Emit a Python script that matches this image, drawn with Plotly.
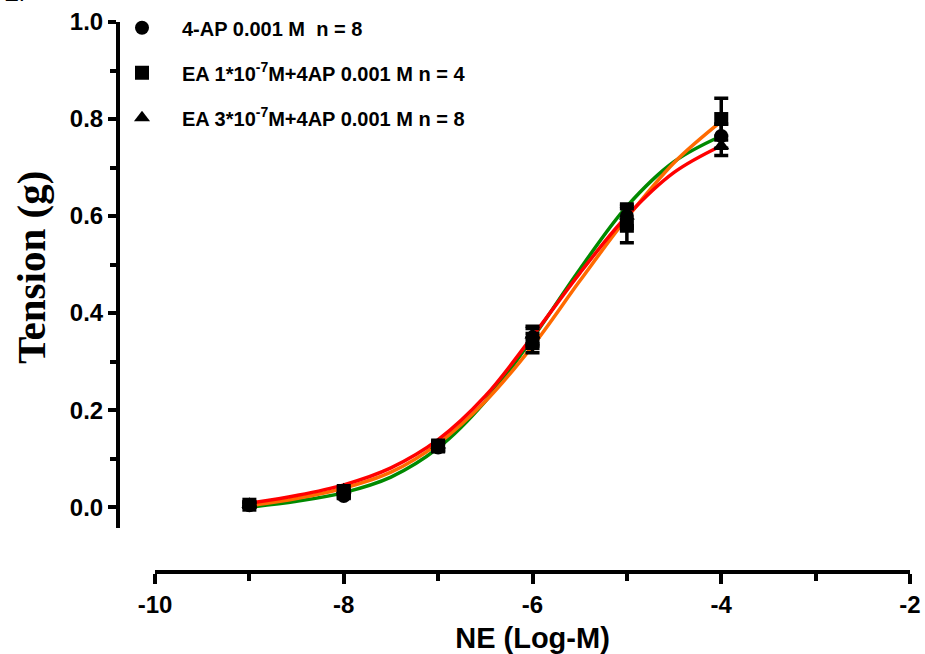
import plotly.graph_objects as go

# ---------------- data ----------------
log_ne = [-9, -8, -7, -6, -5, -4]

names = ["4-AP 0.001 M  n = 8",
         "EA 1*10<sup>-7</sup>M+4AP 0.001 M n = 4",
         "EA 3*10<sup>-7</sup>M+4AP 0.001 M n = 8"]
symbols = ["circle", "square", "triangle-up"]

mean_4ap = [0.004, 0.023, 0.123, 0.350, 0.600, 0.765]
sem_4ap = [0.004, 0.005, 0.008, 0.018, 0.020, 0.025]
mean_ea1 = [0.005, 0.030, 0.125, 0.338, 0.580, 0.800]
sem_ea1 = [0.005, 0.006, 0.008, 0.020, 0.035, 0.043]
mean_ea3 = [0.006, 0.036, 0.128, 0.355, 0.600, 0.745]
sem_ea3 = [0.005, 0.008, 0.010, 0.018, 0.025, 0.020]

# fitted curves
curve_x = [-9, -8.5, -8, -7.5, -7, -6.5, -6, -5.5, -5, -4.5, -4]
curve_4ap = [0.000, 0.012, 0.030, 0.062, 0.122, 0.218, 0.348, 0.490, 0.620, 0.712, 0.765]
curve_ea1 = [0.003, 0.018, 0.039, 0.072, 0.131, 0.218, 0.332, 0.466, 0.596, 0.710, 0.795]
curve_ea3 = [0.008, 0.024, 0.046, 0.081, 0.139, 0.229, 0.352, 0.482, 0.600, 0.690, 0.745]
curve_colors = ["#008a00", "#ff6a00", "#ff0000"]

x_tickvals = [-10, -8, -6, -4, -2]
x_ticktext = ["-10", "-8", "-6", "-4", "-2"]
y_tickvals = [0.0, 0.2, 0.4, 0.6, 0.8, 1.0]
y_ticktext = ["0.0", "0.2", "0.4", "0.6", "0.8", "1.0"]

# ---------------- figure ----------------
fig = go.Figure()

for cy, col in zip([curve_4ap, curve_ea1, curve_ea3], curve_colors):
    fig.add_trace(go.Scatter(x=curve_x, y=cy, mode="lines",
                             line=dict(color=col, width=3.5, shape="spline"),
                             showlegend=False, hoverinfo="skip"))

for i, (m, s) in enumerate([(mean_4ap, sem_4ap), (mean_ea1, sem_ea1), (mean_ea3, sem_ea3)]):
    fig.add_trace(go.Scatter(
        x=log_ne, y=m, mode="markers", name=names[i], legendgroup=str(i),
        marker=dict(symbol=symbols[i], color="black", size=14),
        error_y=dict(type="data", array=s, color="black", thickness=3.5, width=7),
    ))

L, R, T, B = 118, 15, 22, 82
W, H = 925, 654
pw = W - L - R
ph = H - T - B
x0_frac = (155 - L) / pw
y0_frac = (572 - 528) / ph

axis_font = dict(family="Liberation Sans, Arial", size=24, color="black", weight="bold")

fig.update_layout(
    width=W, height=H,
    margin=dict(l=L, r=R, t=T, b=B, autoexpand=False),
    paper_bgcolor="white", plot_bgcolor="white",
    xaxis=dict(domain=[x0_frac, 1], range=[-10, -2], anchor="free", position=0,
               automargin=False,
               showline=True, linecolor="black", linewidth=4,
               tickvals=x_tickvals, ticktext=x_ticktext,
               ticks="outside", ticklen=10, tickwidth=4, tickcolor="black",
               minor=dict(dtick=1, ticks="outside", ticklen=7, tickwidth=4, tickcolor="black"),
               showgrid=False, zeroline=False, tickfont=axis_font,
               title=dict(text="NE (Log-M)", standoff=13,
                          font=dict(family="Liberation Sans, Arial", size=29,
                                    color="black", weight="bold"))),
    yaxis=dict(domain=[y0_frac, 1], range=[-0.043, 1.0], anchor="free", position=0,
               automargin=False,
               showline=True, linecolor="black", linewidth=4,
               tickvals=y_tickvals, ticktext=y_ticktext,
               ticks="outside", ticklen=8, tickwidth=4, tickcolor="black",
               minor=dict(dtick=0.1, ticks="outside", ticklen=6, tickwidth=4, tickcolor="black"),
               showgrid=False, zeroline=False, tickfont=axis_font),
    legend=dict(x=(102 - L) / pw, y=1.025, xanchor="left", yanchor="top",
                traceorder="grouped", tracegroupgap=16, itemwidth=70,
                font=dict(family="Liberation Sans, Arial", size=20, color="black", weight="bold"),
                bgcolor="rgba(0,0,0,0)"),
    annotations=[
        dict(text="Tension (g)", xref="paper", yref="paper", textangle=-90,
             x=(31 - L) / pw, y=(572 - 268) / ph, xanchor="center", yanchor="middle",
             showarrow=False,
             font=dict(family="Liberation Serif, Times New Roman", size=41,
                       color="black", weight="bold")),
        dict(text="E.", xref="paper", yref="paper",
             x=(2 - L) / pw, y=(572 - 8) / ph, xanchor="left", yanchor="bottom",
             showarrow=False,
             font=dict(family="Liberation Sans, Arial", size=22, color="black")),
    ],
)

fig.write_html("out.html", config={"displayModeBar": False},
               post_script="document.body.style.margin='0';")
